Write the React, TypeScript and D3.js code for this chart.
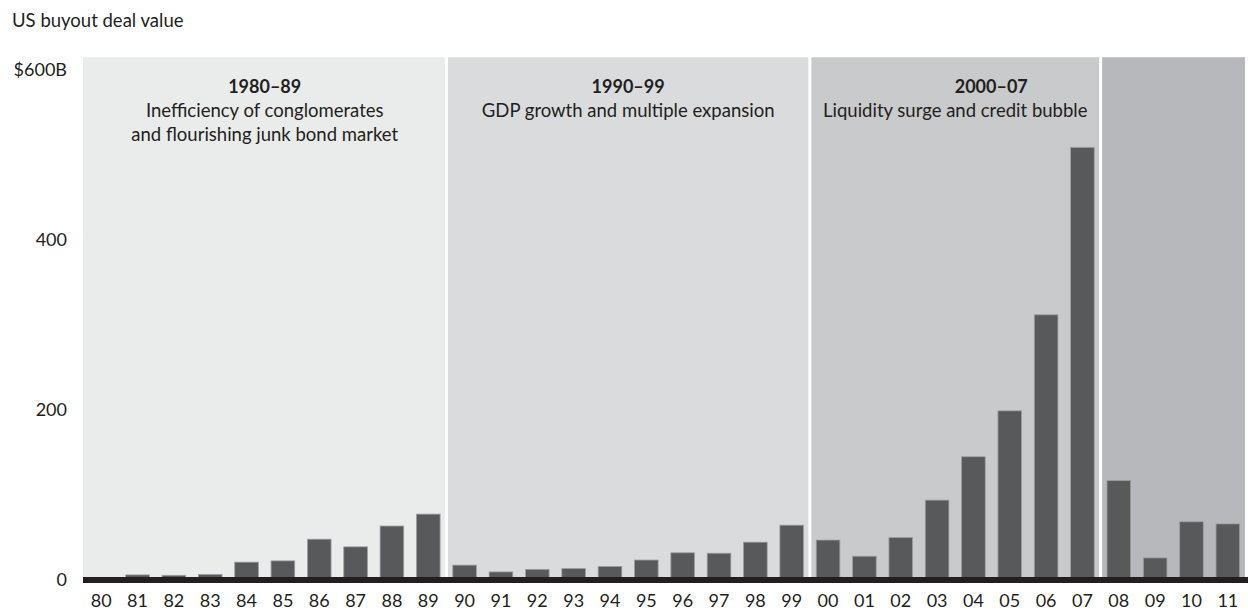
import React from 'react';
import * as d3 from 'd3';

const years = ['80','81','82','83','84','85','86','87','88','89','90','91','92','93','94','95','96','97','98','99','00','01','02','03','04','05','06','07','08','09','10','11'];
const values = [1, 6, 5.5, 6.5, 21, 22.5, 48, 39, 63.5, 77.5, 17.5, 9.5, 12.5, 13.5, 16, 23.5, 32, 31.5, 44.5, 64.5, 47, 28, 50, 94, 145, 199, 312, 509, 117, 26, 68.5, 66];
const yTicks = [0, 200, 400, 600];
const yTickLabels = ['0', '200', '400', '$600B'];
const eraFirst = ['80', '90', '00', '08'];
const eraLast = ['89', '99', '07', '11'];
const eraTitles = ['1980–89', '1990–99', '2000–07', ''];
const eraLines = [
  ['Inefficiency of conglomerates', 'and flourishing junk bond market'],
  ['GDP growth and multiple expansion'],
  ['Liquidity surge and credit bubble'],
  [],
];
const eraColors = ['#eaebeb', '#dadbdd', '#c9cacc', '#b7b8bb'];
const titleDx = [0, 0, 36, 0];

const W = 1248, H = 611;
const FONT = 'Lato, "Open Sans", sans-serif';
const TXT = '#231f20';

export default function App() {
  const x = d3.scaleBand<string>().domain(years).range([83, 1246]).paddingInner(0.35).paddingOuter(0.175);
  const y = d3.scaleLinear().domain([0, 600]).range([580, 70]);
  const step = x.step();
  const bw = x.bandwidth();
  const gap = (step - bw) / 2;
  const bandTop = y(615);
  const left = (yr: string) => (x(yr) as number) - gap;
  const right = (yr: string) => (x(yr) as number) + bw + gap;

  return (
    <svg width={W} height={H} style={{ position: 'absolute', left: 0, top: 0 }} fontFamily={FONT}>
      <rect x={0} y={0} width={W} height={H} fill="#fff" />
      <text x={12} y={27} fontSize={18.5} fill={TXT}>US buyout deal value</text>
      {eraFirst.map((f, i) => {
        const l = left(f) + (i === 0 ? 0 : 1.5);
        const r = Math.min(right(eraLast[i]), 1245) - (i === eraFirst.length - 1 ? 0 : 1.5);
        const cx = (left(f) + right(eraLast[i])) / 2;
        return (
          <g key={f}>
            <rect x={l} y={bandTop} width={r - l} height={580 - bandTop} fill={eraColors[i]} />
            {eraTitles[i] && (
              <text x={cx + titleDx[i]} y={93} textAnchor="middle" fontSize={18} fontWeight="bold" fill={TXT}>{eraTitles[i]}</text>
            )}
            {eraLines[i].map((t, j) => (
              <text key={j} x={cx} y={117 + j * 24} textAnchor="middle" fontSize={18.5} fill={TXT}>{t}</text>
            ))}
          </g>
        );
      })}
      {years.map((yr, i) => (
        <rect key={yr} x={x(yr)} y={y(values[i])} width={bw} height={y(0) - y(values[i])} fill="#58595b" stroke="#9d9ea0" strokeWidth={0.8} />
      ))}
      <rect x={83} y={577} width={W - 83} height={6} fill={TXT} />
      {yTicks.map((t, i) => (
        <text key={t} x={67} y={y(t)} dy="0.35em" textAnchor="end" fontSize={18} fill={TXT}>{yTickLabels[i]}</text>
      ))}
      {years.map((yr) => (
        <text key={yr} x={(x(yr) as number) + bw / 2} y={607} textAnchor="middle" fontSize={18} fill={TXT}>{yr}</text>
      ))}
    </svg>
  );
}
